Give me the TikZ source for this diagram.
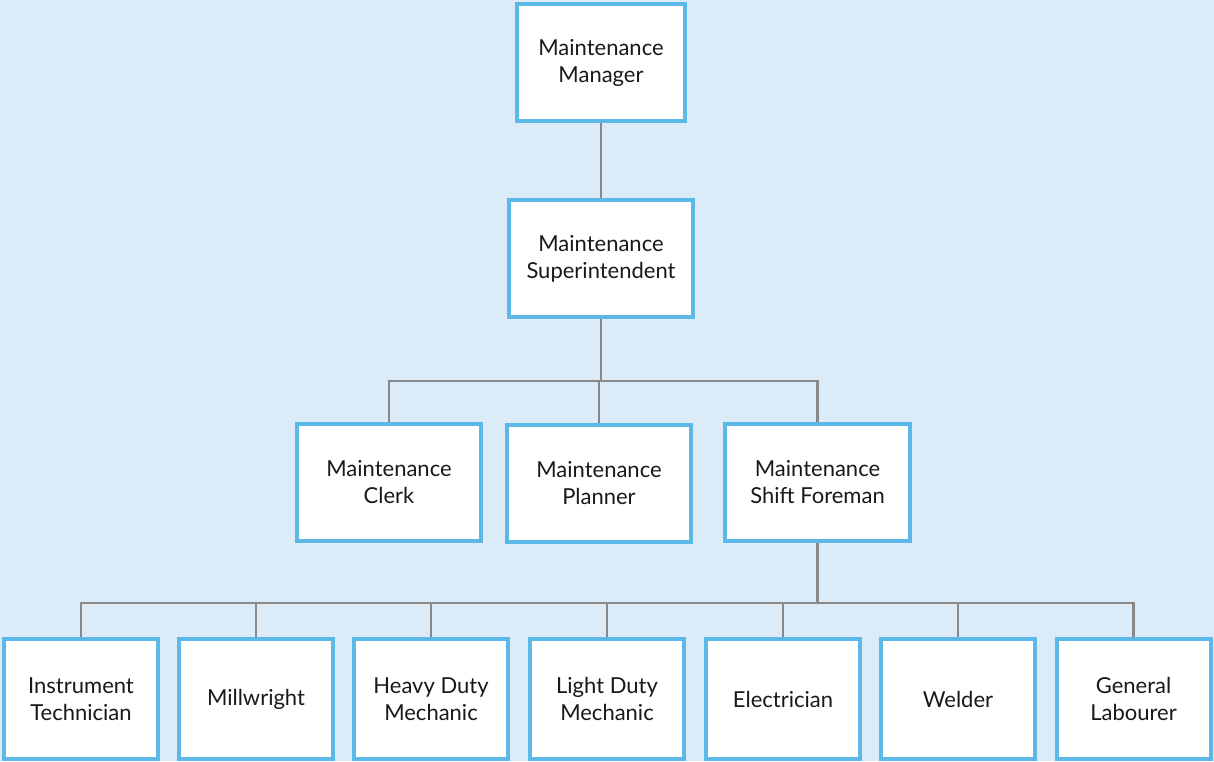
\documentclass[tikz,border=0pt]{standalone}
\usepackage{fontspec}
\setmainfont{Lato}
\definecolor{bgblue}{HTML}{DCEBF8}
\definecolor{boxblue}{HTML}{5CB8E6}
\definecolor{linkgray}{HTML}{888888}
\tikzset{
    rolebox/.style={draw=boxblue, line width=4pt, fill=white, align=center, font=\fontsize{22}{27}\selectfont, text=black!90, inner sep=0pt},
    link/.style={draw=linkgray, line width=2.6pt}
}
\begin{document}
\begin{tikzpicture}[x=1pt, y=-1pt]
                \fill[bgblue] (0, 0) rectangle (1214, 761);

                \useasboundingbox (0, 0) rectangle (1214, 761);

                \node[rolebox, minimum width=168pt, minimum height=117pt] (manager) at (601, 62.5) {Maintenance\\Manager};

                \node[rolebox, minimum width=184pt, minimum height=117pt] (superint) at (601, 258.5) {Maintenance\\Superintendent};

                \node[rolebox, minimum width=184pt, minimum height=117pt] (clerk) at (389, 482.5) {Maintenance\\Clerk};

                \node[rolebox, minimum width=184pt, minimum height=117pt] (planner) at (599, 483.5) {Maintenance\\Planner};

                \node[rolebox, minimum width=185pt, minimum height=117pt] (foreman) at (817.5, 482.5) {Maintenance\\Shift Foreman};

                \node[rolebox, minimum width=154pt, minimum height=120pt] (instr) at (81, 699) {Instrument\\Technician};

                \node[rolebox, minimum width=154pt, minimum height=120pt] (millw) at (256, 699) {Millwright};

                \node[rolebox, minimum width=154pt, minimum height=120pt] (heavy) at (431, 699) {Heavy Duty\\Mechanic};

                \node[rolebox, minimum width=154pt, minimum height=120pt] (light) at (607, 699) {Light Duty\\Mechanic};

                \node[rolebox, minimum width=154pt, minimum height=120pt] (elec) at (783, 699) {Electrician};

                \node[rolebox, minimum width=154pt, minimum height=120pt] (welder) at (958, 699) {Welder};

                \node[rolebox, minimum width=154pt, minimum height=120pt] (labour) at (1133.5, 699) {General\\Labourer};

                \coordinate (staffbus) at (599, 381);

                \coordinate (crewbus) at (815, 603);

                \draw[link] (manager.south) -- (superint.north);

                \draw[link] (superint.south) -- (superint.south |- staffbus);

                \draw[link] (clerk.north) -- (clerk.north |- staffbus) -- (foreman.north |- staffbus) -- (foreman.north);

                \draw[link] (planner.north) -- (planner.north |- staffbus);

                \draw[link] (foreman.south) -- (foreman.south |- crewbus);

                \draw[link] (instr.north) -- (instr.north |- crewbus) -- (labour.north |- crewbus) -- (labour.north);

                \foreach \crew in {millw, heavy, light, elec, welder}
                    \draw[link] (\crew.north) -- (\crew.north |- crewbus);
            \end{tikzpicture}
\end{document}
